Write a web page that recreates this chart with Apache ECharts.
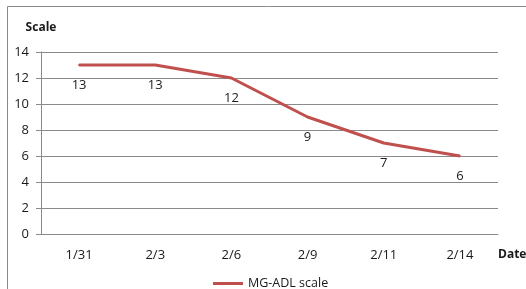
<!DOCTYPE html>
<html><head><meta charset="utf-8">
<script src="https://cdn.jsdelivr.net/npm/echarts@6/dist/echarts.min.js"></script>
<style>html,body{margin:0;padding:0;background:#fff}#c{width:526px;height:289px}</style>
</head><body><div id="c"></div>
<script>
var categories = ['1/31','2/3','2/6','2/9','2/11','2/14'];
var values = [13,13,12,9,7,6];
var yTicks = [0,2,4,6,8,10,12,14];
var seriesName = 'MG-ADL scale';

var chart = echarts.init(document.getElementById('c'), null, {renderer:'canvas'});
var font = 'Open Sans';
chart.setOption({
  animation:false,
  backgroundColor:'#fff',
  graphic:[{type:'rect',shape:{x:7.5,y:6.5,width:540,height:300},style:{fill:'none',stroke:'#8a8a8a',lineWidth:1},silent:true,z:-1}],
  grid:{left:41,right:28,top:52,bottom:55,containLabel:false,outerBoundsMode:'none'},
  legend:{left:208,top:272,itemWidth:30,itemHeight:3,icon:'rect',
    textStyle:{fontFamily:font,fontSize:12.5,color:'#1a1a1a'},data:[seriesName]},
  xAxis:{type:'category',data:categories,boundaryGap:true,
    name:'Date',nameLocation:'end',nameGap:0,
    nameTextStyle:{fontFamily:font,fontSize:12,fontWeight:'bold',color:'#1a1a1a',align:'left',verticalAlign:'top',padding:[15,0,0,0]},
    axisLine:{lineStyle:{color:'#8a8a8a'}},axisTick:{show:false},
    axisLabel:{margin:15,fontFamily:font,fontSize:13,color:'#1a1a1a'},
    splitLine:{show:false}},
  yAxis:{type:'value',min:yTicks[0],max:yTicks[yTicks.length-1],interval:2,
    name:'Scale',nameLocation:'end',nameGap:18,
    nameTextStyle:{fontFamily:font,fontSize:12,fontWeight:'bold',color:'#1a1a1a',align:'center'},
    axisLine:{show:true,lineStyle:{color:'#8a8a8a'}},
    axisTick:{show:true,length:5,lineStyle:{color:'#8a8a8a'}},
    axisLabel:{margin:12,fontFamily:font,fontSize:13,color:'#1a1a1a'},
    splitLine:{lineStyle:{color:'#8a8a8a'}}},
  series:[{name:seriesName,type:'line',data:values,showSymbol:true,symbol:'circle',symbolSize:2,
    lineStyle:{color:'#c0504d',width:3},itemStyle:{color:'#c0504d'},
    label:{show:true,position:'bottom',distance:13,fontFamily:font,fontSize:13,color:'#1a1a1a'}}]
});
</script></body></html>
